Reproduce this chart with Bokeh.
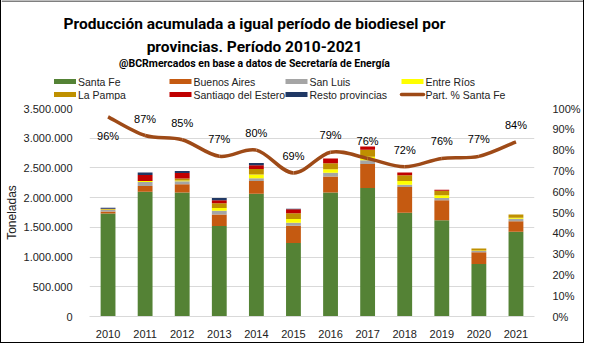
from bokeh.plotting import figure
from bokeh.layouts import column
from bokeh.models import (Range1d, LinearAxis, FixedTicker, CustomJSTickFormatter,
                          ColumnDataSource)
from bokeh.core.properties import value
from bokeh.embed import file_html
from bokeh.resources import INLINE

# ---------------- data ----------------
years = [2010, 2011, 2012, 2013, 2014, 2015, 2016, 2017, 2018, 2019, 2020, 2021]
santa_fe = [1735000, 2098000, 2088000, 1523000, 2066000, 1235000, 2088000, 2162000, 1747000, 1619000, 884000, 1427000]
buenos_aires = [30000, 96000, 138000, 192000, 213000, 293000, 266000, 405000, 432000, 336000, 196000, 176000]
san_luis = [25000, 69000, 48000, 64000, 48000, 48000, 64000, 64000, 36000, 37000, 22000, 43000]
entre_rios = [10000, 16000, 16000, 48000, 64000, 64000, 59000, 59000, 64000, 48000, 10000, 16000]
la_pampa = [8000, 0, 32000, 80000, 91000, 96000, 101000, 117000, 96000, 75000, 33000, 53000]
santiago = [5000, 102000, 91000, 48000, 64000, 70000, 80000, 54000, 48000, 16000, 0, 0]
resto = [15000, 42000, 37000, 37000, 37000, 9000, 0, 0, 0, 0, 0, 0]
part_sf = [96, 87, 85, 77, 80, 69, 79, 76, 72, 76, 77, 84]

series_names = ["Santa Fe", "Buenos Aires", "San Luis", "Entre Ríos", "La Pampa",
                "Santiago del Estero", "Resto provincias"]
series_colors = ["#548235", "#C55A11", "#A5A5A5", "#FFFF00", "#BF9000", "#C00000", "#203864"]
line_name = "Part. % Santa Fe"
title_lines = ["Producción acumulada a igual período de biodiesel por",
               "provincias. Período 2010-2021"]
subtitle = "@BCRmercados en base a datos de Secretaría de Energía"
y_ticks = [0, 500000, 1000000, 1500000, 2000000, 2500000, 3000000, 3500000]
pct_ticks = [0, 10, 20, 30, 40, 50, 60, 70, 80, 90, 100]

# ---------------- geometry / style ----------------
W = 582
HH, HM = 100, 242          # header height, main chart height
ML, MR, MT, MB = 77, 38, 8, 26
YMAX = 3500000
FONT = "Liberation Sans"
TFONT = "Roboto"
LINE_COLOR = "#9E4A17"
TXT = "#222222"

# ---------------- header (title + legend) ----------------
h = figure(width=W, height=HH, output_backend="svg", toolbar_location=None,
           x_range=Range1d(0, W), y_range=Range1d(HH, 0),
           x_axis_type=None, y_axis_type=None,
           min_border_left=0, min_border_right=0, min_border_top=0, min_border_bottom=0)
h.frame_align = False
h.outline_line_color = None
h.grid.visible = False

title_cx = 253
h.text(x=[title_cx, title_cx], y=[23, 46], text=title_lines, text_align="center",
       text_baseline="middle", text_font=value(TFONT), text_font_size="15.5px",
       text_font_style="bold", text_color="black")
h.text(x=[title_cx], y=[63], text=[subtitle], text_align="center", text_baseline="middle",
       text_font=value(TFONT), text_font_size="10.5px", text_font_style="bold",
       text_color="black")

col_x = [52.5, 168, 284, 400]
row_y = [81, 94]
leg_names = series_names + [line_name]
sw_l, sw_r, sw_t, sw_b, lx, ly = [], [], [], [], [], []
for i, nm in enumerate(leg_names):
    cxi, ryi = col_x[i % 4], row_y[i // 4]
    lx.append(cxi + 24); ly.append(ryi)
    if i < len(series_names):
        sw_l.append(cxi); sw_r.append(cxi + 22); sw_t.append(ryi - 2.5); sw_b.append(ryi + 2.5)
h.quad(left=sw_l, right=sw_r, top=sw_t, bottom=sw_b, fill_color=series_colors, line_color=None)
lxi, lyi = col_x[len(series_names) % 4], row_y[len(series_names) // 4]
h.line(x=[lxi, lxi + 22], y=[lyi, lyi], line_color=LINE_COLOR, line_width=3.5, line_cap="round")
h.text(x=lx, y=ly, text=leg_names, text_align="left", text_baseline="middle",
       text_font=value(FONT), text_font_size="10.5px", text_color=TXT)
# outer border: top edge
h.segment(x0=[0], y0=[0.5], x1=[W], y1=[0.5], line_color="black", line_width=1)

# ---------------- main chart ----------------
p = figure(width=W, height=HM, output_backend="svg", toolbar_location=None,
           x_range=Range1d(2009.5, 2021.5), y_range=Range1d(0, YMAX),
           min_border_left=ML, min_border_right=MR, min_border_top=MT, min_border_bottom=MB)
p.frame_align = False
p.outline_line_color = None
p.extra_y_ranges = {"pct": Range1d(0, 100)}

src = ColumnDataSource(dict(x=years, **{n: v for n, v in zip(series_names, [
    santa_fe, buenos_aires, san_luis, entre_rios, la_pampa, santiago, resto])}))
p.vbar_stack(series_names, x="x", width=0.4, source=src, color=series_colors, line_color=None)

# smoothed line (Excel-like Catmull-Rom bezier between data points)
n = len(years)
x0, y0, x1, y1, cx0, cy0, cx1, cy1 = [], [], [], [], [], [], [], []
for i in range(n - 1):
    pa = (years[max(i - 1, 0)], part_sf[max(i - 1, 0)])
    pb = (years[i], part_sf[i])
    pc = (years[i + 1], part_sf[i + 1])
    pd = (years[min(i + 2, n - 1)], part_sf[min(i + 2, n - 1)])
    x0.append(pb[0]); y0.append(pb[1]); x1.append(pc[0]); y1.append(pc[1])
    cx0.append(pb[0] + (pc[0] - pa[0]) / 6); cy0.append(pb[1] + (pc[1] - pa[1]) / 6)
    cx1.append(pc[0] - (pd[0] - pb[0]) / 6); cy1.append(pc[1] - (pd[1] - pb[1]) / 6)
p.bezier(x0=x0, y0=y0, x1=x1, y1=y1, cx0=cx0, cy0=cy0, cx1=cx1, cy1=cy1,
         line_color=LINE_COLOR, line_width=3.5, y_range_name="pct")

# percentage labels
p.text(x=years[:1], y=part_sf[:1], text=[f"{v}%" for v in part_sf[:1]], y_range_name="pct",
       y_offset=19, text_align="center", text_baseline="middle",
       text_font=value(FONT), text_font_size="11px", text_color="black")
p.text(x=years[1:], y=part_sf[1:], text=[f"{v}%" for v in part_sf[1:]], y_range_name="pct",
       y_offset=-17, text_align="center", text_baseline="middle",
       text_font=value(FONT), text_font_size="11px", text_color="black")

# axes
p.xaxis.ticker = FixedTicker(ticks=years)
p.xaxis.major_tick_line_color = None
p.xaxis.minor_tick_line_color = None
p.xaxis.axis_line_color = "#D9D9D9"
p.xaxis.major_label_text_font = FONT
p.xaxis.major_label_text_font_size = "11px"
p.xaxis.major_label_text_color = TXT
p.xaxis.major_label_standoff = 7

p.yaxis.ticker = FixedTicker(ticks=y_ticks)
p.yaxis.formatter = CustomJSTickFormatter(
    code='return tick.toFixed(0).replace(/\\B(?=(\\d{3})+(?!\\d))/g, ".");')
p.yaxis.axis_line_color = None
p.yaxis.major_tick_line_color = None
p.yaxis.minor_tick_line_color = None
p.yaxis.major_label_text_font = FONT
p.yaxis.major_label_text_font_size = "11px"
p.yaxis.major_label_text_color = TXT
p.yaxis.major_label_standoff = 11
p.yaxis.axis_label = "Toneladas"
p.yaxis.axis_label_text_font = FONT
p.yaxis.axis_label_text_font_size = "12px"
p.yaxis.axis_label_text_font_style = "normal"
p.yaxis.axis_label_text_color = TXT
p.yaxis.axis_label_standoff = 2

ax2 = LinearAxis(y_range_name="pct", ticker=FixedTicker(ticks=pct_ticks),
                 formatter=CustomJSTickFormatter(code='return tick.toFixed(0) + "%";'))
ax2.axis_line_color = None
ax2.major_tick_line_color = None
ax2.minor_tick_line_color = None
ax2.major_label_text_font = FONT
ax2.major_label_text_font_size = "11px"
ax2.major_label_text_color = TXT
ax2.major_label_standoff = 12
p.add_layout(ax2, "right")

p.xgrid.grid_line_color = None
p.ygrid.grid_line_color = "#D9D9D9"
p.ygrid.ticker = FixedTicker(ticks=y_ticks)

layout = column(h, p, spacing=0, styles={"border-left": "1px solid black",
                                          "border-right": "1px solid black",
                                          "border-bottom": "1px solid black"})
open("out.html", "w").write(file_html(layout, INLINE))
